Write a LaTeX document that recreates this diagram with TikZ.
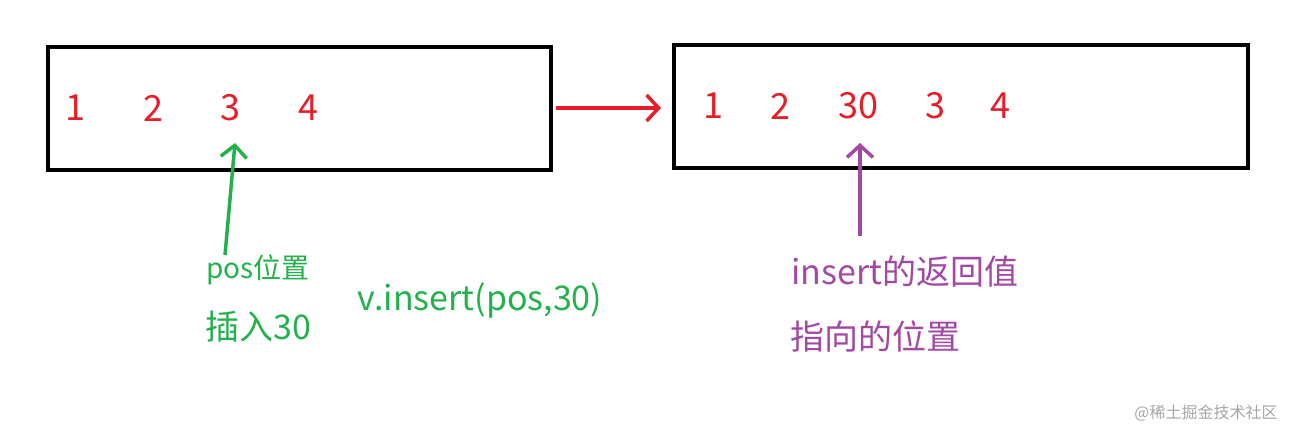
\documentclass[tikz,border=0pt]{standalone}
\usepackage{fontspec}
\setmainfont{Noto Sans CJK SC}
\usetikzlibrary{arrows.meta}
\definecolor{myred}{RGB}{230,30,40}
\definecolor{mygreen}{RGB}{34,177,76}
\definecolor{mypurple}{RGB}{163,73,164}
\tikzset{box/.style={draw=black,line width=4pt},
num/.style={text=myred,font=\fontsize{36}{42}\selectfont},
arr/.style={line width=3.5pt,-{Straight Barb[length=12pt,width=26pt,line width=3.5pt]}},
gtxt/.style={text=mygreen,anchor=center},
ptxt/.style={text=mypurple,anchor=center,font=\fontsize{34}{40}\selectfont}}
\begin{document}
\begin{tikzpicture}[x=1pt,y=-1pt]
\useasboundingbox (0,0) rectangle (1292,431);
\draw[box] (48,47) rectangle (551,170);
\draw[box] (674,45) rectangle (1248,168);
\node[num] (a1) at (75,108) {1};
\node[num] (a2) at (153,108) {2};
\node[num] (a3) at (230,108) {3};
\node[num] (a4) at (308,108) {4};
\node[num] (b1) at (713,106) {1};
\node[num] (b2) at (780,106) {2};
\node[num] (b30) at (858,106) {30};
\node[num] (b3) at (935,106) {3};
\node[num] (b4) at (1000,106) {4};
\coordinate (r1) at (556,108);
\coordinate (r2) at (661,108);
\draw[arr,myred] (r1) -- (r2);
\coordinate (g1) at (225,255);
\coordinate (g2) at (235,143);
\draw[arr,mygreen] (g1) -- (g2);
\coordinate (p1) at (860,236);
\coordinate (p2) at (860,143);
\draw[arr,mypurple] (p1) -- (p2);
\node[gtxt,font=\fontsize{28}{32}\selectfont] (t1) at (258,270) {pos位置};
\node[gtxt,font=\fontsize{34}{40}\selectfont] (t2) at (258,327) {插入30};
\node[gtxt,font=\fontsize{34}{40}\selectfont] (t3) at (480,300) {v.insert(pos,30)};
\node[ptxt] (t4) at (905,272) {insert的返回值};
\node[ptxt] (t5) at (875,336) {指向的位置};
\node[text=gray!70,font=\fontsize{16}{18}\selectfont] (wm) at (1206,413) {@稀土掘金技术社区};
\end{tikzpicture}
\end{document}
